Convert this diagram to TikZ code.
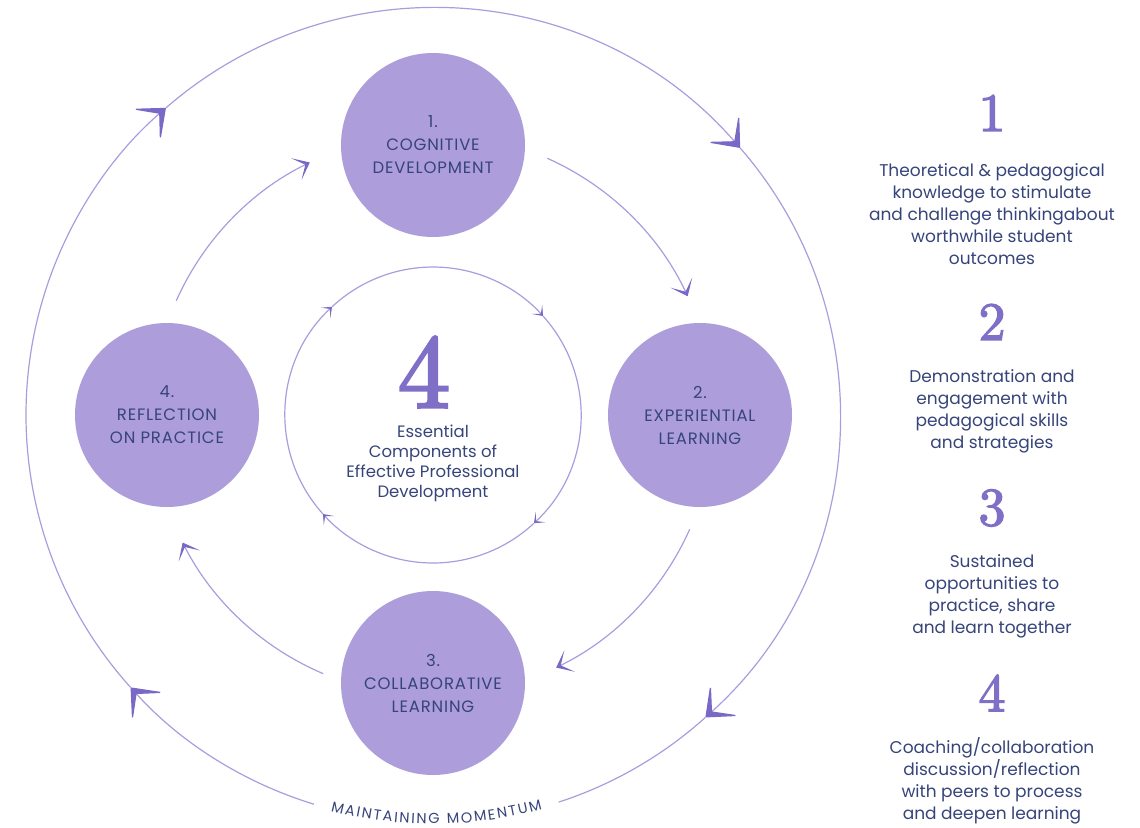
\documentclass[tikz,border=0pt]{standalone}
\usepackage{fontspec}
\newfontfamily\sansfont{Poppins}
\newfontfamily\stagefont[LetterSpace=5]{Poppins}
\newfontfamily\momfont{Poppins}
\newfontfamily\numfont[FakeBold=2.5]{lmroman10-regular.otf}
\usepackage{tikz}
\usetikzlibrary{arrows.meta, decorations.text}

\definecolor{circfill}{HTML}{AD9EDB}
\definecolor{ringline}{HTML}{AA9CDD}
\definecolor{tipcol}{HTML}{7A68C7}
\definecolor{numcol}{HTML}{7F6FC6}
\definecolor{textblue}{HTML}{36447A}

\tikzset{
	stage/.style={circle, fill=circfill, minimum size=184pt, inner sep=0pt, align=center, text=textblue, font=\stagefont\fontsize{16.5}{23}\selectfont},
	ring/.style={draw=ringline, line width=1.2pt},
	bigtip/.tip={Stealth[length=28pt, width=46pt, inset=19pt, color=tipcol]},
	midtip/.tip={Stealth[length=15pt, width=24pt, inset=10pt, color=tipcol]},
	smalltip/.tip={Stealth[length=9pt, width=14pt, inset=6pt, color=tipcol]},
	bignum/.style={text=numcol, font=\numfont\fontsize{54}{54}\selectfont},
	desc/.style={align=center, text=textblue, font=\sansfont\fontsize{17}{22}\selectfont},
}

\begin{document}
\begin{tikzpicture}[x=1pt, y=1pt]
	\useasboundingbox (0,0) rectangle (1140,-827);
	\coordinate (hub) at (433,-415);

	% the four stages
	\node[stage] (cog) at (433,-145) {1.\\COGNITIVE\\DEVELOPMENT};
	\node[stage] (exp) at (700,-415) {2.\\EXPERIENTIAL\\LEARNING};
	\node[stage] (col) at (433,-683) {3.\\COLLABORATIVE\\LEARNING};
	\node[stage] (ref) at (167,-415) {4.\\REFLECTION\\ON PRACTICE};

	% arcs between the stages
	\draw[ring, -midtip] ([shift={(66:281)}]hub) arc[start angle=66, end angle=25, radius=281];
	\draw[ring, -midtip] ([shift={(-24:281)}]hub) arc[start angle=-24, end angle=-64, radius=281];
	\draw[ring, -midtip] ([shift={(-113:281)}]hub) arc[start angle=-113, end angle=-153, radius=281];
	\draw[ring, -midtip] ([shift={(156:281)}]hub) arc[start angle=156, end angle=116, radius=281];

	% inner circle
	\draw[ring, -smalltip] ([shift={(133:148)}]hub) arc[start angle=133, end angle=42, radius=148];
	\draw[ring, -smalltip] ([shift={(42:148)}]hub) arc[start angle=42, end angle=-47, radius=148];
	\draw[ring, -smalltip] ([shift={(-47:148)}]hub) arc[start angle=-47, end angle=-138, radius=148];
	\draw[ring, -smalltip] ([shift={(-138:148)}]hub) arc[start angle=-138, end angle=-227, radius=148];

	\node[text=numcol, font=\numfont\fontsize{105}{105}\selectfont] (four) at (424,-372) {4};
	\node[align=center, text=textblue, font=\sansfont\fontsize{16.5}{20}\selectfont] (essence) at (433,-463) {Essential\\Components of\\Effective Professional\\Development};

	% outer circle
	\draw[ring, -bigtip] ([shift={(-107:407)}]hub) arc[start angle=-107, end angle=-138, radius=407];
	\draw[ring, -bigtip] ([shift={(-138:407)}]hub) arc[start angle=-138, end angle=-229, radius=407];
	\draw[ring, -bigtip] ([shift={(131:407)}]hub) arc[start angle=131, end angle=41, radius=407];
	\draw[ring, -bigtip] ([shift={(41:407)}]hub) arc[start angle=41, end angle=-48, radius=407];
	\draw[ring] ([shift={(-48:407)}]hub) arc[start angle=-48, end angle=-72, radius=407];

	\path[decorate, decoration={text along path, text align=fit to path,
		text={|\momfont\color{textblue}\fontsize{14.5}{14.5}\selectfont|MAINTAINING MOMENTUM}}]
		([shift={(-104.5:409)}]hub) arc[start angle=-104.5, end angle=-74.5, radius=409];

	% right column
	\node[bignum] (num1) at (992,-113) {1};
	\node[desc] (desc1) at (992,-214) {Theoretical \& pedagogical\\knowledge to stimulate\\and challenge thinkingabout\\worthwhile student\\outcomes};
	\node[bignum] (num2) at (992,-322) {2};
	\node[desc] (desc2) at (992,-411) {Demonstration and\\engagement with\\pedagogical skills\\and strategies};
	\node[bignum] (num3) at (992,-508) {3};
	\node[desc] (desc3) at (992,-596) {Sustained\\opportunities to\\practice, share\\and learn together};
	\node[bignum] (num4) at (992,-693) {4};
	\node[desc] (desc4) at (992,-781) {Coaching/collaboration\\discussion/reflection\\with peers to process\\and deepen learning};
\end{tikzpicture}
\end{document}
